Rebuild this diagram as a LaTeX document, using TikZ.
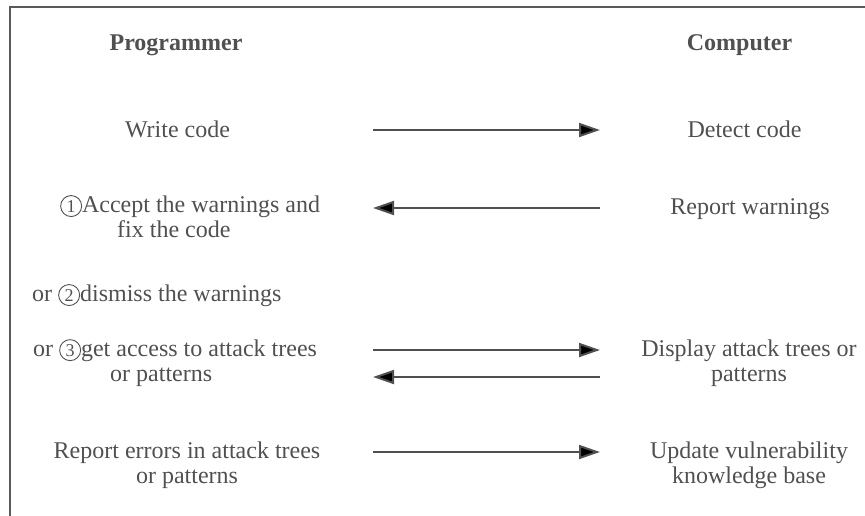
\documentclass[tikz,border=0pt]{standalone}
\usepackage{fontspec}
\setmainfont{Liberation Serif}
\usetikzlibrary{arrows.meta}

\definecolor{ink}{HTML}{505050}
\definecolor{framecol}{HTML}{5A5A5A}

\tikzset{
  lbl/.style={text=ink, font=\fontsize{24}{25.5}\selectfont, inner sep=0pt, align=center, anchor=base},
  lblleft/.style={lbl, align=left, anchor=base west},
  head/.style={lbl, font=\fontsize{24}{25.5}\selectfont\bfseries},
  flow/.style={draw=ink, line width=2pt, -{Triangle[length=21pt,width=14pt]}},
  numring/.style={draw=ink, circle, line width=0.9pt, inner sep=0pt, minimum size=21pt,
    text=ink, font=\fontsize{18}{18}\selectfont, anchor=center},
}

% circled step number set inline with the text
\newcommand\circnum[1]{\tikz[baseline=(cn#1.base)]\node[numring](cn#1){#1};}

\begin{document}
\begin{tikzpicture}[x=1pt,y=-1pt]
\useasboundingbox (0,0) rectangle (865,515);

% open frame: top edge running off to the right, and the left side
\draw[framecol, line width=2pt] (9.5,520) -- (9.5,7) -- (870,7);

% column headings
\node[head] (prog) at (176,50) {Programmer};
\node[head] (comp) at (739.5,50) {Computer};

% programmer side (multi-line nodes are placed by their last baseline)
\node[lbl] (write) at (177.5,137) {Write code};
\node[lblleft] (accept) at (60,237.5) {\circnum{1}Accept the warnings and\\\hspace*{57pt}fix the code};
\node[lblleft] (dismiss) at (32,301) {or \circnum{2}dismiss the warnings};
\node[lblleft] (access) at (33,381.5) {or \circnum{3}get access to attack trees\\\hspace*{77pt}or patterns};
\node[lbl] (errors) at (187,483.5) {Report errors in attack trees\\or patterns};

% computer side
\node[lbl] (detect) at (744.5,137) {Detect code};
\node[lbl] (report) at (750,214) {Report warnings};
\node[lbl] (display) at (749,381.5) {Display attack trees or\\patterns};
\node[lbl] (update) at (749,483.5) {Update vulnerability\\knowledge base};

% arrow end points between the two columns
\coordinate (w1) at (373,130); \coordinate (c1) at (600,130);
\coordinate (w2) at (373,208); \coordinate (c2) at (600,208);
\coordinate (w3) at (373,350); \coordinate (c3) at (600,350);
\coordinate (w4) at (373,377); \coordinate (c4) at (600,377);
\coordinate (w5) at (373,452); \coordinate (c5) at (600,452);

\draw[flow] (w1) -- (c1);
\draw[flow] (c2) -- (w2);
\draw[flow] (w3) -- (c3);
\draw[flow] (c4) -- (w4);
\draw[flow] (w5) -- (c5);
\end{tikzpicture}
\end{document}
